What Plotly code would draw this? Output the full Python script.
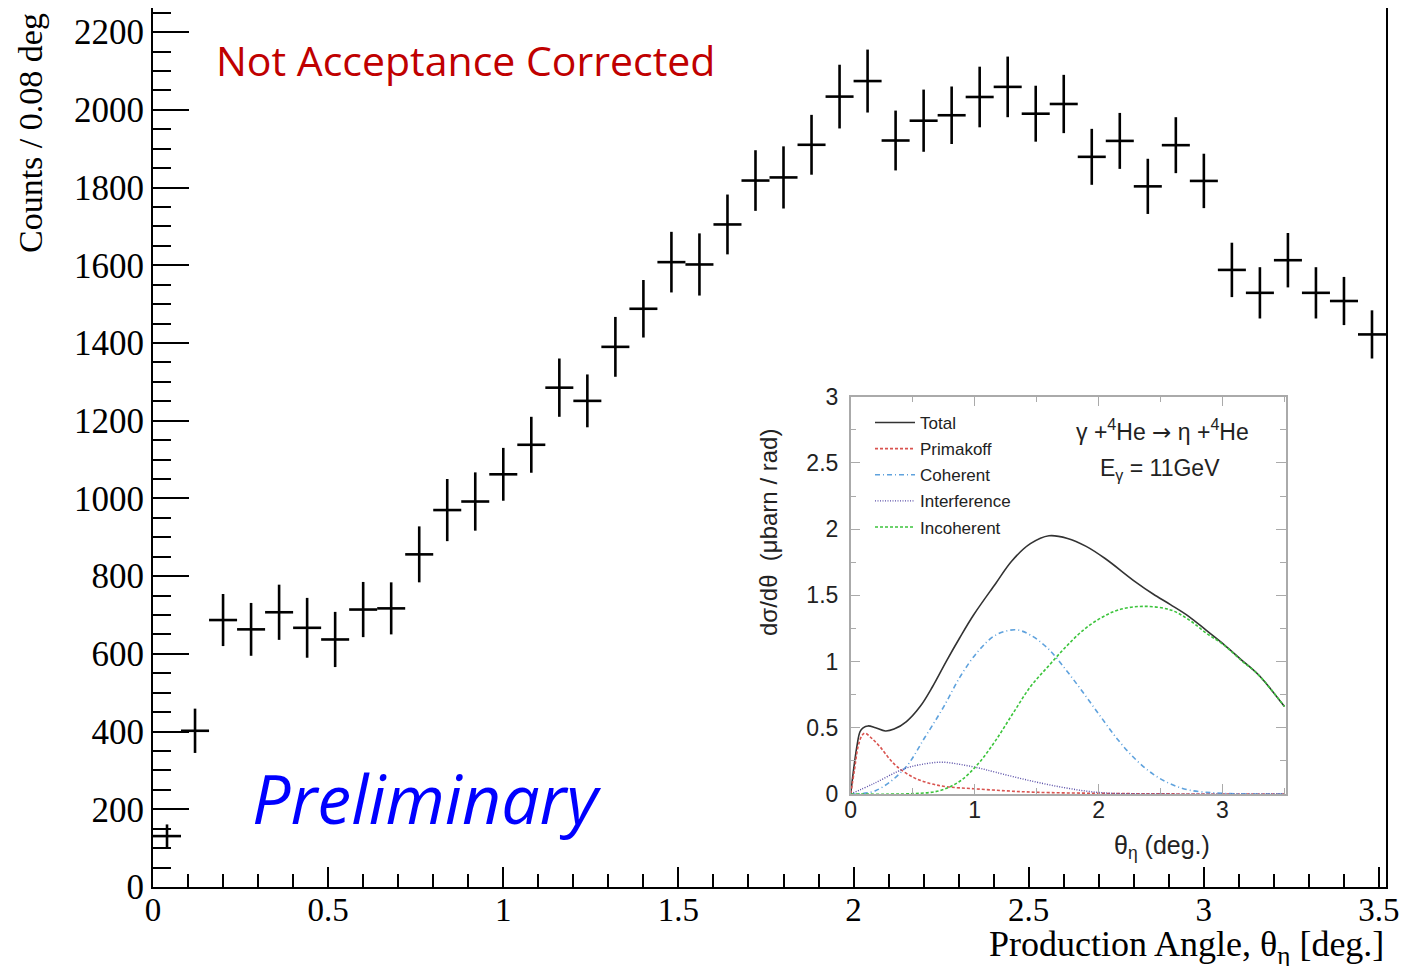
import plotly.graph_objects as go

# ---------------- main histogram data ----------------
theta = [0.04, 0.12, 0.20, 0.28, 0.36, 0.44, 0.52, 0.60, 0.68, 0.76, 0.84, 0.92,
         1.00, 1.08, 1.16, 1.24, 1.32, 1.40, 1.48, 1.56, 1.64, 1.72, 1.80, 1.88,
         1.96, 2.04, 2.12, 2.20, 2.28, 2.36, 2.44, 2.52, 2.60, 2.68, 2.76, 2.84,
         2.92, 3.00, 3.08, 3.16, 3.24, 3.32, 3.40, 3.48]
counts = [131, 402, 687, 663, 707, 667, 637, 714, 717, 856, 970, 992,
          1062, 1138, 1285, 1251, 1390, 1488, 1608, 1602, 1705, 1818, 1826, 1910,
          2034, 2074, 1921, 1972, 1986, 2033, 2059, 1990, 2015, 1879, 1920, 1803,
          1909, 1817, 1588, 1529, 1613, 1529, 1508, 1422]
errors = [30, 57, 67, 68, 71, 77, 71, 71, 67, 72, 80, 75,
          68, 72, 75, 68, 77, 74, 78, 80, 77, 78, 80, 77,
          82, 81, 77, 80, 74, 78, 78, 72, 75, 72, 72, 71,
          72, 70, 70, 66, 70, 66, 62, 62]
bin_half = 0.04

# ---------------- inset theory curves ----------------
total_x = [0, 0.02, 0.05, 0.075, 0.10, 0.14, 0.20, 0.28, 0.35, 0.45, 0.56, 0.66, 0.77,
           0.88, 0.99, 1.17, 1.30, 1.45, 1.60, 1.75, 1.90, 2.05, 2.30, 2.44, 2.58, 2.73,
           2.87, 3.01, 3.15, 3.29, 3.50]
total_y = [0, 0.16, 0.36, 0.47, 0.50, 0.514, 0.50, 0.476, 0.49, 0.547, 0.66, 0.81, 1.00,
           1.18, 1.35, 1.59, 1.76, 1.89, 1.95, 1.93, 1.87, 1.78, 1.60, 1.51, 1.43, 1.34,
           1.235, 1.13, 1.015, 0.90, 0.66]
prim_x = [0, 0.03, 0.06, 0.09, 0.115, 0.17, 0.236, 0.30, 0.37, 0.505, 0.64, 0.774, 0.99,
          1.25, 1.5, 2.0, 2.5, 3.5]
prim_y = [0, 0.18, 0.36, 0.44, 0.46, 0.42, 0.357, 0.28, 0.21, 0.126, 0.08, 0.055, 0.04,
          0.024, 0.013, 0.005, 0.001, 0]
coh_x = [0, 0.2, 0.433, 0.60, 0.745, 0.886, 1.03, 1.17, 1.33, 1.45, 1.59, 1.735, 1.88,
         2.02, 2.16, 2.30, 2.44, 2.58, 2.73, 3.0, 3.5]
coh_y = [0, 0.025, 0.19, 0.43, 0.65, 0.89, 1.08, 1.20, 1.24, 1.20, 1.10, 0.94, 0.76,
         0.58, 0.405, 0.26, 0.15, 0.076, 0.03, 0.005, 0]
intf_x = [0, 0.18, 0.43, 0.60, 0.745, 0.886, 1.03, 1.17, 1.45, 1.735, 2.02, 2.5, 3.5]
intf_y = [0, 0.076, 0.19, 0.228, 0.24, 0.223, 0.197, 0.164, 0.10, 0.046, 0.01, 0, 0]
incoh_x = [0, 0.5, 0.716, 0.886, 1.03, 1.17, 1.31, 1.45, 1.59, 1.735, 1.88, 2.02, 2.16,
           2.36, 2.58, 2.73, 2.87, 3.01, 3.15, 3.29, 3.50]
incoh_y = [0, 0.003, 0.025, 0.10, 0.23, 0.405, 0.61, 0.81, 0.96, 1.11, 1.24, 1.33, 1.39,
           1.417, 1.39, 1.315, 1.214, 1.126, 1.01, 0.90, 0.66]

# intended screen layout of the main frame (x 153..1386, y 8..887);
# the page itself is shown offset by the default 8px body margin.
L, R, T, B = 153, 1386, 8, 887
W, H = 1414, 966
OFF = 8


def px(X):
    return (X - L) / (R - L)


def py(Y):
    return (B - Y) / (B - T)


fig = go.Figure()

fig.add_trace(go.Scatter(
    x=theta, y=counts, mode="markers",
    marker=dict(size=1, color="black"),
    error_x=dict(type="constant", value=bin_half, width=0, thickness=2.6, color="black"),
    error_y=dict(type="data", array=errors, width=0, thickness=2.6, color="black"),
    showlegend=False, xaxis="x", yaxis="y"))

curves = [
    ("Total", total_x, total_y, dict(color="#333333", width=1.6, dash="solid")),
    ("Primakoff", prim_x, prim_y, dict(color="#d9534f", width=1.6, dash="3px,2px")),
    ("Coherent", coh_x, coh_y, dict(color="#5fa2dd", width=1.6, dash="5px,3px,1px,3px")),
    ("Interference", intf_x, intf_y, dict(color="#5a4fa8", width=1.4, dash="1px,1.5px")),
    ("Incoherent", incoh_x, incoh_y, dict(color="#3cc43c", width=1.6, dash="3px,2px")),
]
for name, xs, ys, ln in curves:
    fig.add_trace(go.Scatter(x=xs, y=ys, mode="lines", name=name,
                             line=dict(shape="spline", smoothing=1.0, **ln),
                             xaxis="x2", yaxis="y2", legendgroup=name))

serif = "Liberation Serif"
sans = "Liberation Sans"

fig.update_layout(
    width=W, height=H,
    margin=dict(l=L - OFF, r=W - R + OFF, t=T - OFF, b=H - B + OFF, autoexpand=False),
    paper_bgcolor="white", plot_bgcolor="white",
    xaxis=dict(range=[0, 3.52], dtick=0.5, tick0=0, ticks="inside", ticklen=20, tickwidth=1.5,
               tickcolor="black", showline=True, linecolor="black", linewidth=1.8, mirror=True,
               showgrid=False, zeroline=False, automargin=False, ticklabelstandoff=-8,
               tickfont=dict(family=serif, size=33, color="black"),
               minor=dict(dtick=0.1, ticks="inside", ticklen=13, tickwidth=1.5, tickcolor="black",
                          showgrid=False)),
    yaxis=dict(range=[0, 2262], dtick=200, tick0=0, ticks="inside", ticklen=36, tickwidth=1.5,
               tickcolor="black", showline=True, linecolor="black", linewidth=1.8, mirror=True,
               showgrid=False, zeroline=False, automargin=False,
               tickfont=dict(family=serif, size=35, color="black"),
               minor=dict(dtick=50, ticks="inside", ticklen=18, tickwidth=1.5, tickcolor="black",
                          showgrid=False)),
    xaxis2=dict(domain=[px(850.7), px(1285.7)], anchor="y2", range=[0, 3.51], dtick=1, tick0=0,
                ticks="inside", ticklen=10, tickcolor="#aaaaaa", showline=True, linecolor="#aaaaaa",
                linewidth=1.5, mirror="ticks", showgrid=False, zeroline=False, automargin=False,
                ticklabelstandoff=-5,
                tickfont=dict(family=sans, size=23, color="#222222"),
                minor=dict(dtick=0.5, ticks="inside", ticklen=6, tickcolor="#aaaaaa", showgrid=False)),
    yaxis2=dict(domain=[py(794), py(396.7)], anchor="x2", range=[0, 3], dtick=0.5, tick0=0,
                ticks="inside", ticklen=10, tickcolor="#aaaaaa", showline=True, linecolor="#aaaaaa",
                linewidth=1.5, mirror="ticks", showgrid=False, zeroline=False, automargin=False,
                ticklabelstandoff=6,
                tickfont=dict(family=sans, size=23, color="#222222"),
                minor=dict(dtick=0.25, ticks="inside", ticklen=6, tickcolor="#aaaaaa", showgrid=False)),
    legend=dict(x=px(870), y=py(405), xanchor="left", yanchor="top",
                bgcolor="rgba(0,0,0,0)", font=dict(family=sans, size=17, color="#222222"),
                tracegroupgap=1, itemwidth=40),
    showlegend=True,
)

arrow = '<span style="font-family:DejaVu Sans">→</span>'
ann = [
    dict(text="Counts / 0.08 deg", x=px(31), y=py(133), textangle=-90,
         font=dict(family=serif, size=34, color="black")),
    dict(text="Production Angle, θ<sub>η</sub> [deg.]", x=1.0, y=py(946), xanchor="right",
         font=dict(family=serif, size=36, color="black")),
    dict(text="Not Acceptance Corrected", x=px(214), y=py(60), xanchor="left",
         font=dict(family="Open Sans", size=41, color="#c00000")),
    dict(text="<i>Preliminary</i>", x=px(250), y=py(797), xanchor="left",
         font=dict(family="Open Sans", size=68, color="#0000ff")),
    dict(text="dσ/dθ  (μbarn / rad)", x=px(768), y=py(533), textangle=-90,
         font=dict(family=sans, size=24, color="#222222")),
    dict(text="θ<sub>η</sub> (deg.)", x=px(1162), y=py(847),
         font=dict(family=sans, size=25, color="#222222")),
    dict(text="γ +<sup>4</sup>He " + arrow + " η +<sup>4</sup>He", x=px(1162), y=py(430),
         font=dict(family=sans, size=23, color="#222222")),
    dict(text="E<sub>γ</sub> = 11GeV", x=px(1160), y=py(469),
         font=dict(family=sans, size=23, color="#222222")),
]
for a in ann:
    a.setdefault("xanchor", "center")
    fig.add_annotation(xref="paper", yref="paper", showarrow=False, yanchor="middle", **a)

fig.write_html("out.html")
